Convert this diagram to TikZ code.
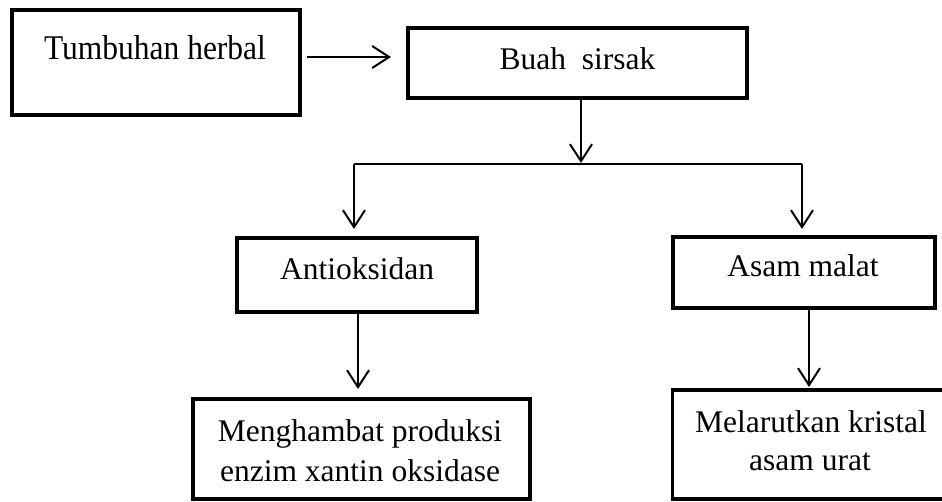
\documentclass[tikz,border=0pt]{standalone}
\usepackage{fontspec}
\setmainfont{Liberation Serif}
\usetikzlibrary{arrows.meta}
\begin{document}
\begin{tikzpicture}[x=1pt,y=-1pt,
  box/.style={draw=black, line width=3.6pt, rectangle, inner sep=0pt, outer sep=0pt},
  txt/.style={inner sep=0pt, anchor=base, font=\fontsize{31.5}{40}\selectfont},
  arr/.style={line width=2pt, -{Straight Barb[length=17pt,width=22pt,line width=2pt]}},
  ln/.style={line width=2pt}]
\useasboundingbox (0,0) rectangle (942,502);
% boxes
\node[box, minimum width=288pt, minimum height=105pt] (tum) at (156,62.5) {};
\node[box, minimum width=339pt, minimum height=70pt] (buah) at (577.5,63) {};
\node[box, minimum width=240pt, minimum height=74pt] (anti) at (357,275) {};
\node[box, minimum width=262pt, minimum height=71pt] (asam) at (804,272.5) {};
\node[box, minimum width=337pt, minimum height=100pt] (mengh) at (361.5,449) {};
\node[box, minimum width=275pt, minimum height=109pt] (mel) at (810,444.5) {};
% texts
\node[txt] (tumT) at (155,59.5) {\scalebox{1}[1.1]{Tumbuhan herbal}};
\node[txt] (buahT) at (577.5,69.5) {Buah\ \ sirsak};
\node[txt] (antiT) at (357,279.5) {Antioksidan};
\node[txt] (asamT) at (803,277) {Asam malat};
\node[txt] (menghA) at (360,441.5) {Menghambat produksi};
\node[txt] (menghB) at (360,481.5) {enzim xantin oksidase};
\node[txt] (melA) at (811,432) {Melarutkan kristal};
\node[txt] (melB) at (810,470) {asam urat};
% junction coordinates
\coordinate (ay) at (0,57);
\coordinate (jl) at (354,164);
\coordinate (jm) at (581,164);
\coordinate (jr) at (802,164);
\coordinate (ax) at (358,0);
\coordinate (bx) at (809,0);
% connectors
\draw[arr, shorten <=7pt, shorten >=17pt] (tum.east |- ay) -- (buah.west |- ay);
\draw[arr, shorten >=1pt] (buah.south -| jm) -- (jm);
\draw[ln] (jl) -- (jr);
\draw[arr, shorten >=9pt] (jl) -- (jl |- anti.north);
\draw[arr, shorten >=8pt] (jr) -- (jr |- asam.north);
\draw[arr, shorten >=10pt] (anti.south -| ax) -- (mengh.north -| ax);
\draw[arr, shorten >=3pt] (asam.south -| bx) -- (mel.north -| bx);
\end{tikzpicture}
\end{document}
